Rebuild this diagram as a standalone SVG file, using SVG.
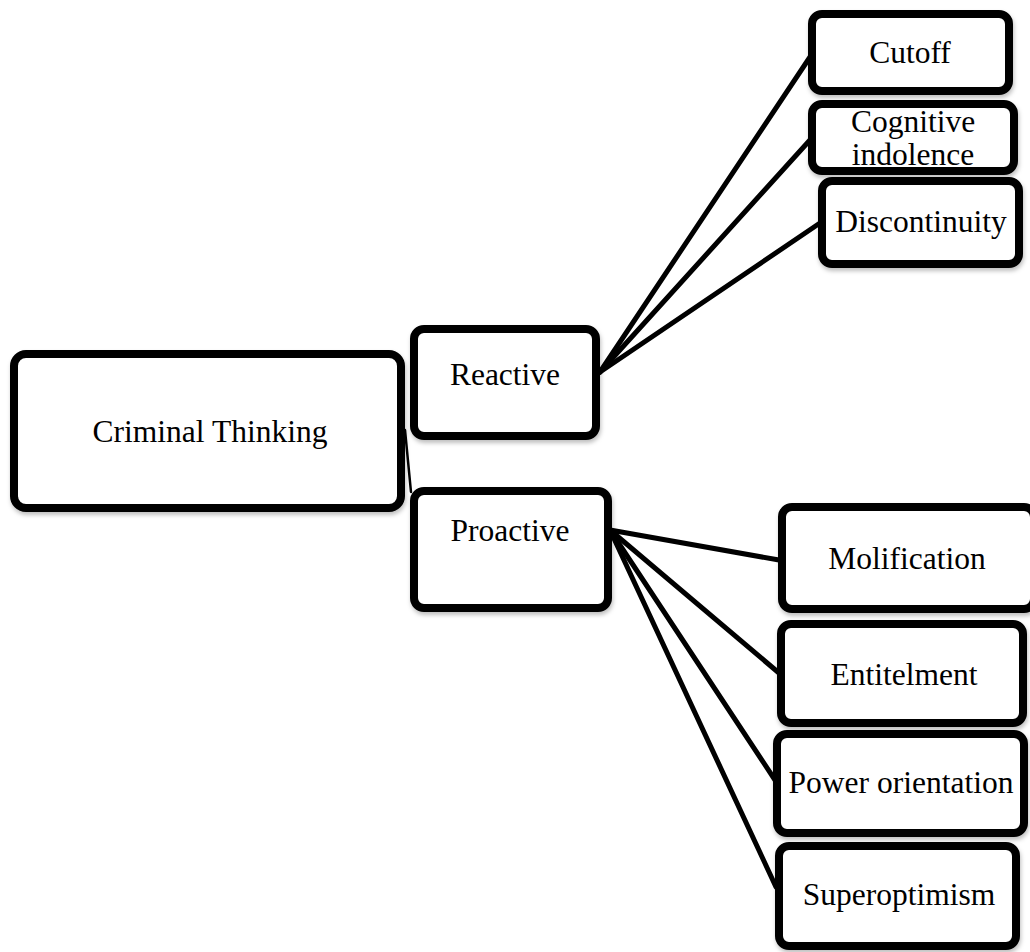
<svg xmlns="http://www.w3.org/2000/svg" width="1030" height="952" viewBox="0 0 1030 952">
<defs>
<filter id="sh" x="-10%" y="-10%" width="130%" height="130%">
<feDropShadow dx="1" dy="3" stdDeviation="2" flood-color="#000" flood-opacity="0.25"/>
</filter>
<style>
.box{fill:#fff;stroke:#000;stroke-width:8;filter:url(#sh)}
.lbl{font-family:"Liberation Serif","Times New Roman",serif;font-size:31.5px;fill:#000;text-anchor:middle}
.con{stroke:#000;stroke-width:5;fill:none;stroke-linecap:round}
</style>
</defs>
<rect width="1030" height="952" fill="#fff"/>
<g id="connectors">
<line class="con" x1="405" y1="430" x2="411" y2="492" style="stroke-width:2.5"/>
<line class="con" x1="600" y1="372" x2="810" y2="57"/>
<line class="con" x1="600" y1="372" x2="810" y2="140"/>
<line class="con" x1="600" y1="372" x2="820" y2="223"/>
<line class="con" x1="610" y1="530" x2="779" y2="560"/>
<line class="con" x1="610" y1="530" x2="779" y2="673"/>
<line class="con" x1="610" y1="530" x2="775" y2="780"/>
<line class="con" x1="610" y1="530" x2="776" y2="887"/>
</g>
<g id="criminal-thinking"><rect class="box" x="14" y="354" width="387" height="154" rx="12"/><text class="lbl" x="210" y="442">Criminal Thinking</text></g>
<g id="reactive"><rect class="box" x="414" y="329" width="182" height="107" rx="10"/><text class="lbl" x="505" y="385">Reactive</text></g>
<g id="proactive"><rect class="box" x="414" y="491" width="194" height="117" rx="10"/><text class="lbl" x="510" y="541">Proactive</text></g>
<g id="cutoff"><rect class="box" x="812" y="14" width="197" height="77" rx="10"/><text class="lbl" x="910" y="63">Cutoff</text></g>
<g id="cognitive-indolence"><rect class="box" x="812" y="104" width="202" height="67" rx="10"/><text class="lbl" x="913" y="132">Cognitive</text><text class="lbl" x="913" y="165">indolence</text></g>
<g id="discontinuity"><rect class="box" x="822" y="181" width="197" height="83" rx="10"/><text class="lbl" x="921" y="232">Discontinuity</text></g>
<g id="molification"><rect class="box" x="782" y="507" width="252" height="102" rx="10"/><text class="lbl" x="907" y="569">Molification</text></g>
<g id="entitelment"><rect class="box" x="781" y="624" width="242" height="99" rx="10"/><text class="lbl" x="904" y="685">Entitelment</text></g>
<g id="power-orientation"><rect class="box" x="777" y="734" width="247" height="99" rx="10"/><text class="lbl" x="901" y="793">Power orientation</text></g>
<g id="superoptimism"><rect class="box" x="779" y="846" width="237" height="100" rx="10"/><text class="lbl" x="899" y="905">Superoptimism</text></g>
</svg>
